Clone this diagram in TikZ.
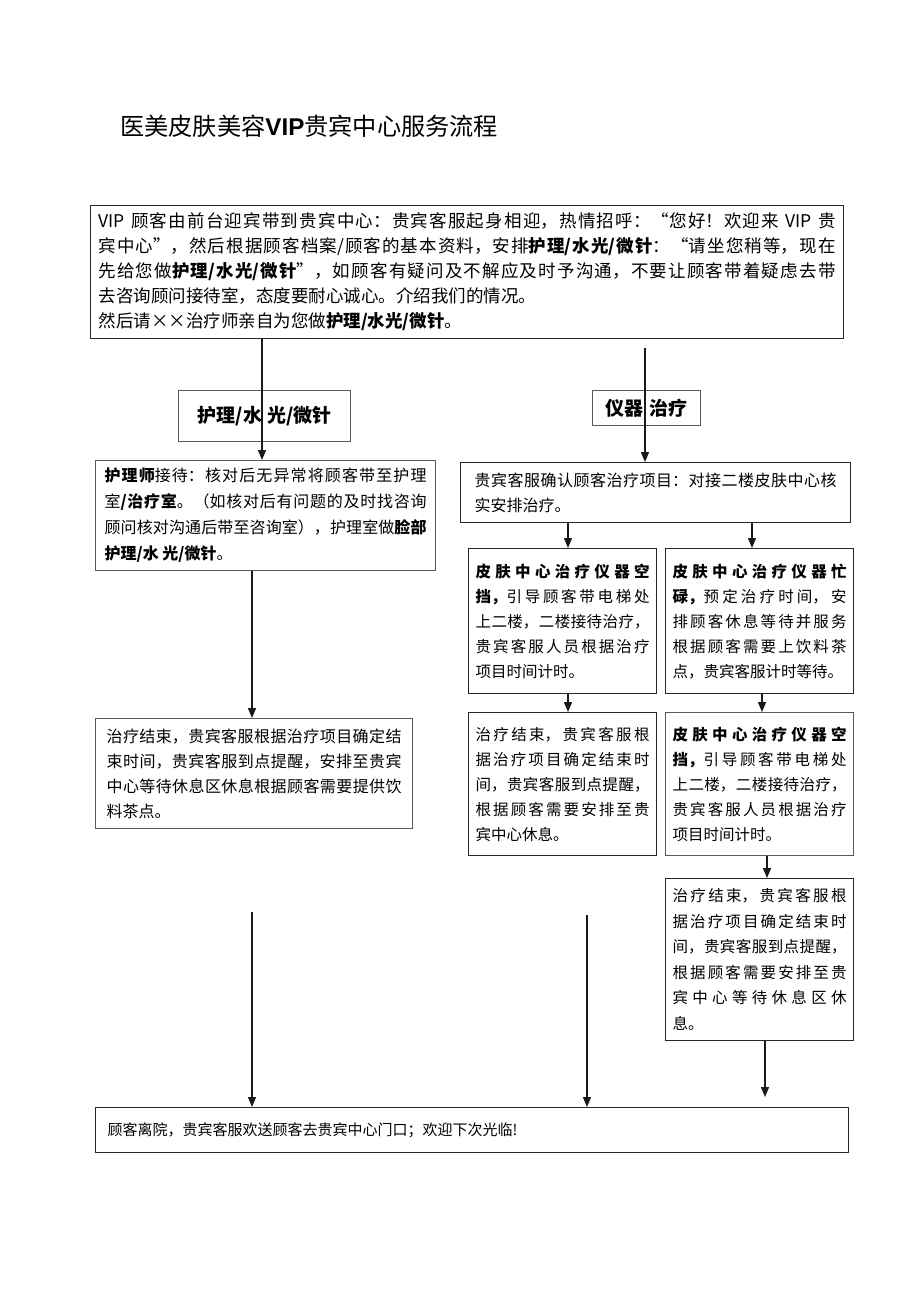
\documentclass[tikz,border=0pt]{standalone}
\usepackage{fontspec}
\setmainfont{Noto Sans CJK SC}
\newfontfamily\latinbold{Liberation Sans}
\usetikzlibrary{arrows.meta}
\XeTeXlinebreaklocale "zh"
\XeTeXlinebreakskip=0pt plus 1pt
\tikzset{
  box/.style={draw=black!85, line width=1.2pt, anchor=north west, align=justify,
    inner ysep=3pt, execute at begin node={\parindent=0pt}},
  gbox/.style={box, draw=black!65},
  lbl/.style={draw=black!65, line width=1.2pt, anchor=north west, align=center,
    inner sep=0pt, font=\fontsize{19}{22}\selectfont\bfseries},
  arr/.style={line width=1.3pt, draw=black!90, -{Triangle[length=10pt,width=8pt]}},
}
\begin{document}
\begin{tikzpicture}[x=1pt,y=-1pt]
\useasboundingbox (0,0) rectangle (920,1301);

\node[anchor=base west, inner sep=0pt, font=\fontsize{24.2}{28}\selectfont] (title) at (120,135)
  {医美皮肤美容{\latinbold\bfseries VIP}贵宾中心服务流程};

\node[box, inner xsep=8pt, text width=737pt, minimum width=753pt, minimum height=133pt,
  font=\fontsize{17.5}{25}\selectfont] (top) at (90,205)
  {VIP 顾客由前台迎宾带到贵宾中心：贵宾客服起身相迎，热情招呼：“您好！欢迎来 VIP 贵\linebreak
   宾中心”，然后根据顾客档案/顾客的基本资料，安排\textbf{护理/水光/微针}：“请坐您稍等，现在\linebreak
   先给您做\textbf{护理/水光/微针}”，如顾客有疑问及不解应及时予沟通，不要让顾客带着疑虑去带\linebreak
   去咨询顾问接待室，态度要耐心诚心。介绍我们的情况。\par
   然后请××治疗师亲自为您做\textbf{护理/水光/微针}。};

\node[lbl, minimum width=172pt, minimum height=51pt] (p) at (178,390) {护理/水\hspace{5pt}光/微针};
\node[lbl, minimum width=108pt, minimum height=35pt] (q) at (592,390) {仪器\hspace{6pt}治疗};

\node[gbox, inner xsep=9pt, text width=322pt, minimum width=340pt, minimum height=110pt,
  font=\fontsize{16}{26}\selectfont] (lb) at (95,460)
  {\textbf{护理师}接待：核对后无异常将顾客带至护理\linebreak
   室\textbf{/治疗室}。（如核对后有问题的及时找咨询\linebreak
   顾问核对沟通后带至咨询室），护理室做\textbf{脸部}\linebreak
   \textbf{护理/水 光/微针}。};

\node[box, inner xsep=14pt, text width=362pt, minimum width=390pt, minimum height=60pt,
  font=\fontsize{16}{25}\selectfont] (rb) at (460,462)
  {贵宾客服确认顾客治疗项目：对接二楼皮肤中心核\linebreak 实安排治疗。};

\node[box, inner xsep=7pt, text width=174pt, minimum width=188pt, minimum height=145pt,
  font=\fontsize{15.5}{25}\selectfont] (A) at (468,548)
  {\textbf{皮肤中心治疗仪器空}\linebreak
   \textbf{挡，}引导顾客带电梯处\linebreak
   上二楼，二楼接待治疗，\linebreak
   贵宾客服人员根据治疗\linebreak
   项目时间计时。};

\node[box, inner xsep=7pt, text width=174pt, minimum width=188pt, minimum height=145pt,
  font=\fontsize{15.5}{25}\selectfont] (B) at (665,548)
  {\textbf{皮肤中心治疗仪器忙}\linebreak
   \textbf{碌，}预定治疗时间，安\linebreak
   排顾客休息等待并服务\linebreak
   根据顾客需要上饮料茶\linebreak
   点，贵宾客服计时等待。};

\node[box, inner xsep=7pt, text width=174pt, minimum width=188pt, minimum height=143pt,
  font=\fontsize{15.5}{25}\selectfont] (C) at (468,712)
  {治疗结束，贵宾客服根\linebreak
   据治疗项目确定结束时\linebreak
   间，贵宾客服到点提醒，\linebreak
   根据顾客需要安排至贵\linebreak
   宾中心休息。};

\node[gbox, inner xsep=7pt, text width=174pt, minimum width=188pt, minimum height=143pt,
  font=\fontsize{15.5}{25}\selectfont] (D) at (665,712)
  {\textbf{皮肤中心治疗仪器空}\linebreak
   \textbf{挡，}引导顾客带电梯处\linebreak
   上二楼，二楼接待治疗，\linebreak
   贵宾客服人员根据治疗\linebreak
   项目时间计时。};

\node[box, inner xsep=7pt, text width=174pt, minimum width=188pt, minimum height=162pt,
  font=\fontsize{15.5}{25.5}\selectfont] (E) at (665,878)
  {治疗结束，贵宾客服根\linebreak
   据治疗项目确定结束时\linebreak
   间，贵宾客服到点提醒，\linebreak
   根据顾客需要安排至贵\linebreak
   宾中心等待休息区休\linebreak
   息。};

\node[gbox, inner xsep=11pt, text width=295pt, minimum width=317pt, minimum height=110pt,
  font=\fontsize{16}{25}\selectfont] (F) at (95,718)
  {治疗结束，贵宾客服根据治疗项目确定结\linebreak
   束时间，贵宾客服到点提醒，安排至贵宾\linebreak
   中心等待休息区休息根据顾客需要提供饮\linebreak
   料茶点。};

\node[box, inner xsep=12pt, text width=729pt, minimum width=753pt, minimum height=45pt,
  font=\fontsize{15}{22}\selectfont] (G) at (95,1107)
  {顾客离院，贵宾客服欢送顾客去贵宾中心门口；欢迎下次光临!};

% connector coordinates
\coordinate (xl) at (262,0);
\coordinate (r0) at (645,348);
\coordinate (xa) at (568,0);
\coordinate (xb) at (752,0);
\coordinate (xd) at (762,0);
\coordinate (xe) at (767,0);
\coordinate (xf) at (252,0);
\coordinate (e1) at (765,1097);
\coordinate (b1) at (252,912);
\coordinate (b2) at (587,915);

\draw[arr] (top.south -| xl) -- (lb.north -| xl);
\draw[arr] (r0) -- (rb.north -| r0);
\draw[arr] (rb.south -| xa) -- (A.north -| xa);
\draw[arr] (rb.south -| xb) -- (B.north -| xb);
\draw[arr] (A.south -| xa) -- (C.north -| xa);
\draw[arr] (B.south -| xd) -- (D.north -| xd);
\draw[arr] (D.south -| xe) -- (E.north -| xe);
\draw[arr] (lb.south -| xf) -- (F.north -| xf);
\draw[arr] (E.south -| e1) -- (e1);
\draw[arr] (b1) -- (G.north -| b1);
\draw[arr] (b2) -- (G.north -| b2);
\end{tikzpicture}
\end{document}
